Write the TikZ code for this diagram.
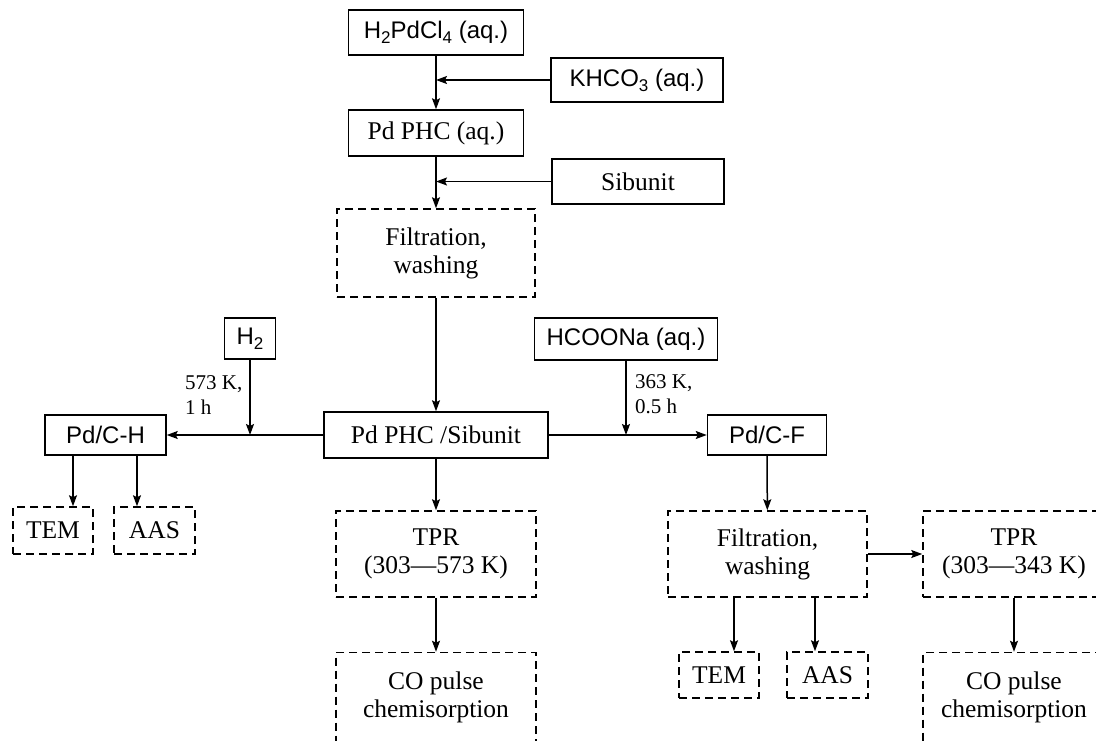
\documentclass[tikz,border=0pt]{standalone}
\usepackage{fontspec}
\setmainfont{Liberation Serif}
\newfontfamily\sansf{Liberation Sans}
\usetikzlibrary{arrows.meta}
\newcommand\sbs[1]{\raisebox{-5pt}{\fontsize{17}{17}\selectfont #1}}
\begin{document}
\begin{tikzpicture}[x=1pt,y=-1pt,
 box/.style={draw, line width=1.5pt, inner sep=0pt, align=center, font=\fontsize{25.5}{28}\selectfont},
 sbox/.style={box, font=\sansf\fontsize{24}{27}\selectfont},
 dbox/.style={box, dash pattern=on 8pt off 5pt},
 arr/.style={line width=1.5pt, -{Stealth[length=11pt,width=8pt,inset=2pt]}},
 lab/.style={inner sep=0pt, align=left, anchor=north west, font=\fontsize{21}{25}\selectfont}]
\useasboundingbox (0,0) rectangle (1096,740);
\clip (0,0) rectangle (1096,740);
% nodes
\node[sbox, minimum width=175, minimum height=45] (h2pdcl4) at (436,32.5) {H\sbs{2}PdCl\sbs{4} (aq.)};
\node[sbox, minimum width=172, minimum height=44] (khco3) at (637,80) {KHCO\sbs{3} (aq.)};
\node[box, minimum width=175, minimum height=46] (pdphc) at (436,133) {Pd PHC (aq.)};
\node[box, minimum width=172, minimum height=45] (sibunit) at (638,181.5) {Sibunit};
\node[dbox, minimum width=198, minimum height=88] (filt1) at (436,253) {Filtration,\\washing};
\node[sbox, minimum width=51, minimum height=41] (h2) at (250,338.5) {H\sbs{2}};
\node[sbox, minimum width=183, minimum height=42] (hcoona) at (626,339) {HCOONa (aq.)};
\node[box, minimum width=224, minimum height=46] (pdsib) at (436,435) {Pd PHC /Sibunit};
\node[sbox, minimum width=121, minimum height=40] (pdch) at (105.5,435) {Pd/C-H};
\node[sbox, minimum width=119, minimum height=40] (pdcf) at (767,435) {Pd/C-F};
\node[dbox, minimum width=80, minimum height=47] (tem1) at (53,530.5) {TEM};
\node[dbox, minimum width=81, minimum height=47] (aas1) at (154.5,530.5) {AAS};
\node[dbox, minimum width=200, minimum height=86] (tpr1) at (436,554) {TPR\\(303—573 K)};
\node[dbox, minimum width=200, minimum height=89] (co1) at (436,697) {CO pulse\\chemisorption};
\node[dbox, minimum width=199, minimum height=86] (filt2) at (767.5,554) {Filtration,\\washing};
\node[dbox, minimum width=182, minimum height=86] (tpr2) at (1014,554) {TPR\\(303—343 K)};
\node[dbox, minimum width=80, minimum height=46] (tem2) at (719,675) {TEM};
\node[dbox, minimum width=81, minimum height=46] (aas2) at (827.5,675) {AAS};
\node[dbox, minimum width=182, minimum height=89] (co2) at (1014,697) {CO pulse\\chemisorption};
\node[lab] (lab1) at (185,375) {573 K,\\1 h};
\node[lab] (lab2) at (635,374) {363 K,\\0.5 h};
% helper x positions
\coordinate (xa) at (73,0);
\coordinate (xb) at (137,0);
\coordinate (xc) at (734,0);
\coordinate (xd) at (815,0);
% connectors
\draw[arr] (h2pdcl4) -- (pdphc);
\draw[arr] (khco3.west) -- (khco3.west -| pdphc.north);
\draw[arr] (pdphc) -- (filt1);
\draw[arr] (sibunit.west) -- (sibunit.west -| pdphc.south);
\draw[arr] (filt1) -- (pdsib);
\draw[arr] (pdsib.west) -- (pdch.east);
\draw[arr] (h2.south) -- (h2.south |- pdsib.west);
\draw[arr] (pdsib.east) -- (pdcf.west);
\draw[arr] (hcoona.south) -- (hcoona.south |- pdsib.east);
\draw[arr] (pdch.south -| xa) -- (tem1.north -| xa);
\draw[arr] (pdch.south -| xb) -- (aas1.north -| xb);
\draw[arr] (pdsib) -- (tpr1);
\draw[arr] (tpr1) -- (co1);
\draw[arr] (pdcf) -- (filt2);
\draw[arr] (filt2.south -| xc) -- (tem2.north -| xc);
\draw[arr] (filt2.south -| xd) -- (aas2.north -| xd);
\draw[arr] (filt2.east) -- (tpr2.west);
\draw[arr] (tpr2) -- (co2);
\end{tikzpicture}
\end{document}
